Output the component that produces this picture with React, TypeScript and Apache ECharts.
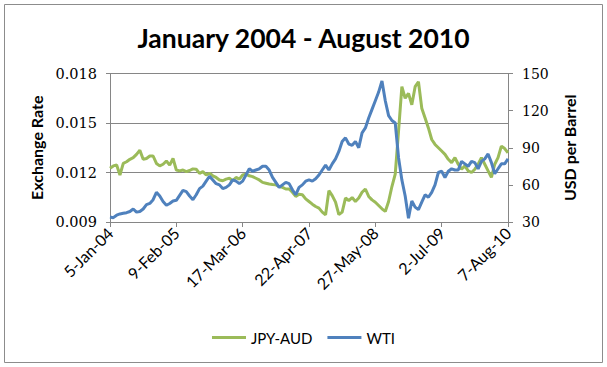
import React, { useEffect, useRef } from "react";
import * as echarts from "echarts";

const tickLabels = ["5-Jan-04", "9-Feb-05", "17-Mar-06", "22-Apr-07", "27-May-08", "2-Jul-09", "7-Aug-10"];
const stepsPerLabel = 20;

const jpyAud = [
  0.01226, 0.0124, 0.01245, 0.01185, 0.01255, 0.01265, 0.0128, 0.0129, 0.0131, 0.01335,
  0.0128, 0.01285, 0.013, 0.013, 0.01255, 0.0124, 0.0125, 0.0127, 0.01245, 0.01285,
  0.01215, 0.0121, 0.01215, 0.01205, 0.01212, 0.01222, 0.0122, 0.01195, 0.01205, 0.01185,
  0.01195, 0.0118, 0.0117, 0.01155, 0.0115, 0.0116, 0.01165, 0.0115, 0.0117, 0.0116,
  0.01185, 0.0119, 0.0118, 0.01175, 0.01165, 0.01155, 0.0114, 0.01135, 0.0113, 0.01127,
  0.01125, 0.01115, 0.0111, 0.011, 0.011, 0.0108, 0.01055, 0.01068, 0.01065, 0.0104,
  0.01024, 0.01008, 0.00994, 0.00984, 0.0096, 0.00944, 0.0109, 0.0106, 0.0102, 0.00945,
  0.0096, 0.01045, 0.0103, 0.01048, 0.01024, 0.01045, 0.0108, 0.011, 0.01055, 0.01034,
  0.0102, 0.01, 0.0098, 0.00964, 0.01024, 0.01115, 0.0119, 0.0145, 0.0172, 0.0165,
  0.0168, 0.0161, 0.0172, 0.0175, 0.0159, 0.0153, 0.0147, 0.014, 0.0137, 0.0135,
  0.0133, 0.0131, 0.0128, 0.0126, 0.0129, 0.0125, 0.0122, 0.0124, 0.0121, 0.012,
  0.0122, 0.0125, 0.0129, 0.0125, 0.0121, 0.0117, 0.0125, 0.0129, 0.0136, 0.01345,
  0.0132,
];

const wti = [
  34, 33.5, 35.5, 36.5, 37, 37.5, 38.5, 40.5, 38, 38.5,
  40.5, 44, 45, 48, 54, 51, 46.5, 43.5, 45, 47,
  47.5, 51.5, 55.5, 54.5, 51, 48, 52, 57, 59, 63,
  67, 64, 61, 60, 57, 58, 60, 64, 63, 61,
  63, 68, 73, 71, 72, 73, 75, 75, 72, 66,
  62, 58, 60, 62, 61, 56, 52, 58, 60, 63,
  64, 63, 65, 68, 72, 76, 72, 77, 81, 87,
  95, 98, 93, 92, 95, 90, 102, 106, 114, 121,
  128, 135, 144, 128, 116, 112, 110, 82, 64, 51,
  33, 47, 42, 40, 46, 52, 50, 54, 60, 70,
  71, 66, 71, 73, 72, 72, 79, 77, 75, 79,
  78, 73, 79, 81, 85, 78, 69, 73, 77, 77,
  81,
];

const GREEN = "#9BBB59";
const BLUE = "#4F81BD";
const AXIS = "#868686";

export default function App() {
  const ref = useRef<HTMLDivElement>(null);
  useEffect(() => {
    document.body.style.margin = "0";
    const chart = echarts.init(ref.current!, null, { renderer: "svg" });
    chart.setOption({
      animation: false,
      backgroundColor: "#ffffff",
      title: {
        text: "January 2004 - August 2010",
        left: "center",
        top: 25,
        padding: [0, 6, 0, 0],
        textStyle: { fontFamily: "Lato", fontWeight: "bold", fontSize: 26.5, color: "#000", lineHeight: 26 },
      },
      graphic: [
        {
          type: "rect",
          silent: true,
          z: -10,
          shape: { x: 4.5, y: 4.5, width: 598, height: 358 },
          style: { fill: "none", stroke: "#8c8c8c", lineWidth: 1 },
        },
      ],
      legend: {
        left: "center",
        top: 325,
        icon: "rect",
        itemWidth: 34,
        itemHeight: 3,
        itemGap: 15,
        textStyle: { fontFamily: "Lato", fontSize: 15, color: "#000" },
        data: ["JPY-AUD", "WTI"],
      },
      grid: { left: 110, right: 99, top: 73.5, bottom: 145, containLabel: false },
      xAxis: {
        type: "value",
        min: 0,
        max: (tickLabels.length - 1) * stepsPerLabel,
        interval: stepsPerLabel,
        splitLine: { show: false },
        axisLine: { show: true, lineStyle: { color: AXIS, width: 1 } },
        axisTick: { show: true, length: 5, lineStyle: { color: AXIS } },
        axisLabel: {
          rotate: 45,
          margin: 8,
          fontFamily: "Lato",
          fontSize: 16,
          color: "#000",
          formatter: (v: number) => tickLabels[Math.round(v / stepsPerLabel)] ?? "",
        },
      },
      yAxis: [
        {
          type: "value",
          position: "left",
          min: 0.009,
          max: 0.018,
          interval: 0.003,
          name: "Exchange Rate",
          nameLocation: "middle",
          nameGap: 65,
          nameTextStyle: { fontFamily: "Lato", fontWeight: "bold", fontSize: 16, color: "#000" },
          axisLine: { show: true, lineStyle: { color: AXIS, width: 1 } },
          axisTick: { show: true, length: 4, lineStyle: { color: AXIS } },
          splitLine: { show: true, lineStyle: { color: AXIS, width: 1 } },
          axisLabel: {
            margin: 13,
            fontFamily: "DejaVu Serif",
            fontSize: 14.5,
            color: "#000",
            formatter: (v: number) => v.toFixed(3),
          },
        },
        {
          type: "value",
          position: "right",
          min: 30,
          max: 150,
          interval: 30,
          name: "USD per Barrel",
          nameLocation: "middle",
          nameGap: 53,
          nameTextStyle: { fontFamily: "Lato", fontWeight: "bold", fontSize: 16, color: "#000" },
          axisLine: { show: true, lineStyle: { color: AXIS, width: 1 } },
          axisTick: { show: true, length: 5, lineStyle: { color: AXIS } },
          splitLine: { show: false },
          axisLabel: {
            margin: 14,
            fontFamily: "DejaVu Serif",
            fontSize: 14,
            color: "#000",
          },
        },
      ],
      series: [
        {
          name: "JPY-AUD",
          type: "line",
          yAxisIndex: 0,
          showSymbol: false,
          symbol: "none",
          color: GREEN,
          lineStyle: { color: GREEN, width: 3 },
          data: jpyAud.map((v, i) => [i, v]),
        },
        {
          name: "WTI",
          type: "line",
          yAxisIndex: 1,
          showSymbol: false,
          symbol: "none",
          color: BLUE,
          lineStyle: { color: BLUE, width: 3 },
          data: wti.map((v, i) => [i, v]),
        },
      ],
    });
    return () => chart.dispose();
  }, []);
  return <div ref={ref} style={{ width: 607, height: 367 }} />;
}
